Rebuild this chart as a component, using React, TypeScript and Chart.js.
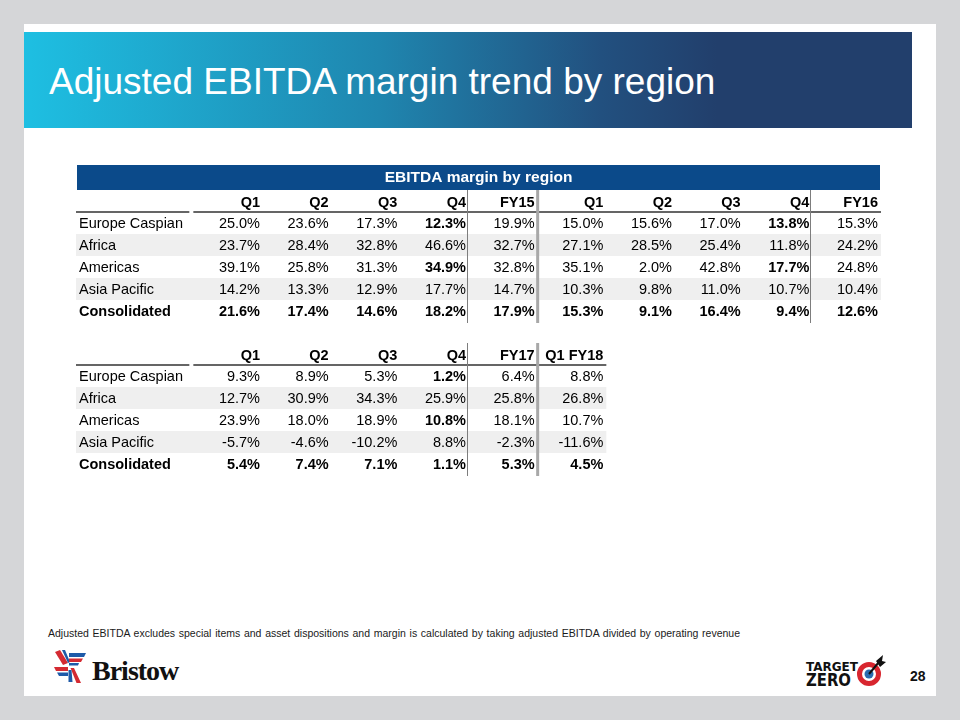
import React, { useEffect, useRef } from "react";
import { Chart, registerables } from "chart.js";

Chart.register(...registerables);

// ---------- data ----------
const regions = ["Europe Caspian", "Africa", "Americas", "Asia Pacific", "Consolidated"];

const periodsFY15FY16 = ["Q1", "Q2", "Q3", "Q4", "FY15", "Q1", "Q2", "Q3", "Q4", "FY16"];
const europeCaspianFY15FY16 = [25.0, 23.6, 17.3, 12.3, 19.9, 15.0, 15.6, 17.0, 13.8, 15.3];
const africaFY15FY16 = [23.7, 28.4, 32.8, 46.6, 32.7, 27.1, 28.5, 25.4, 11.8, 24.2];
const americasFY15FY16 = [39.1, 25.8, 31.3, 34.9, 32.8, 35.1, 2.0, 42.8, 17.7, 24.8];
const asiaPacificFY15FY16 = [14.2, 13.3, 12.9, 17.7, 14.7, 10.3, 9.8, 11.0, 10.7, 10.4];
const consolidatedFY15FY16 = [21.6, 17.4, 14.6, 18.2, 17.9, 15.3, 9.1, 16.4, 9.4, 12.6];

const periodsFY17FY18 = ["Q1", "Q2", "Q3", "Q4", "FY17", "Q1 FY18"];
const europeCaspianFY17FY18 = [9.3, 8.9, 5.3, 1.2, 6.4, 8.8];
const africaFY17FY18 = [12.7, 30.9, 34.3, 25.9, 25.8, 26.8];
const americasFY17FY18 = [23.9, 18.0, 18.9, 10.8, 18.1, 10.7];
const asiaPacificFY17FY18 = [-5.7, -4.6, -10.2, 8.8, -2.3, -11.6];
const consolidatedFY17FY18 = [5.4, 7.4, 7.1, 1.1, 5.3, 4.5];

const tableTitle = "EBITDA margin by region";
const slideTitle = "Adjusted EBITDA margin trend by region";
const footnote =
  "Adjusted EBITDA excludes special items and asset dispositions and margin is calculated by taking adjusted EBITDA divided by operating revenue";
const pageNumber = "28";

// ---------- styles ----------
const FONT = "'Liberation Sans', Arial, Helvetica, sans-serif";
const CELL_SIZE = 14.5;
const BAR_COLOR = "#0b4a8a";
const SHADE = "#efefef";
const TOTAL_ROW = 4;
const EMPHASIS_ROWS = [0, 2];
const FIRST_COL_RIGHT = 260; // page x of first value column's right edge
const COL_STEP = (878 - 260) / 9;

const tablePlugin = {
  id: "tableCells",
  beforeDraw(chart: any, _args: any, opts: any) {
    const { ctx, chartArea, scales } = chart;
    const x = scales.x;
    const y = scales.y;
    const rowH = y.getPixelForValue(1) - y.getPixelForValue(0);
    const step = x.getPixelForValue(1) - x.getPixelForValue(0);
    const right = chartArea.right + 3;
    ctx.save();
    if (opts.bar) {
      ctx.fillStyle = BAR_COLOR;
      ctx.fillRect(1, x.top - 25, right - 2, 25);
    }
    // zebra shading
    ctx.fillStyle = SHADE;
    for (let r = 0; r < regions.length; r++) {
      if (r % 2 === 1) {
        const cy = y.getPixelForValue(r);
        ctx.fillRect(0, cy - rowH / 2, right, rowH);
      }
    }
    // header underline
    ctx.strokeStyle = "#333";
    ctx.lineWidth = 1.5;
    const split = chartArea.left - step;
    ctx.beginPath();
    ctx.moveTo(0, chartArea.top);
    ctx.lineTo(split - 2, chartArea.top);
    ctx.moveTo(split + 2, chartArea.top);
    ctx.lineTo(right, chartArea.top);
    ctx.stroke();
    // separators
    const top = x.top;
    const bottom = chartArea.bottom + 1;
    ctx.strokeStyle = "#7d7d7d";
    ctx.lineWidth = 1;
    for (const c of opts.quarterEnd) {
      const px = Math.round(x.getPixelForValue(c) + 1) + 0.5;
      ctx.beginPath();
      ctx.moveTo(px, top);
      ctx.lineTo(px, bottom);
      ctx.stroke();
    }
    ctx.strokeStyle = "#a8a8a8";
    ctx.lineWidth = 3;
    for (const c of opts.thickAfter) {
      const px = x.getPixelForValue(c) + 3;
      ctx.beginPath();
      ctx.moveTo(px, top);
      ctx.lineTo(px, bottom);
      ctx.stroke();
    }
    ctx.restore();
  },
  afterDatasetsDraw(chart: any, _args: any, opts: any) {
    const { ctx } = chart;
    ctx.save();
    ctx.textAlign = "right";
    ctx.textBaseline = "middle";
    ctx.fillStyle = "#000";
    chart.data.datasets.forEach((ds: any, r: number) => {
      const meta = chart.getDatasetMeta(r);
      meta.data.forEach((el: any, c: number) => {
        const v = ds.values[c];
        const bold = r === TOTAL_ROW || (opts.quarterEnd.includes(c) && EMPHASIS_ROWS.includes(r));
        ctx.font = `${bold ? "bold " : ""}${CELL_SIZE}px ${FONT}`;
        ctx.fillText(`${v.toFixed(1)}%`, el.x, el.y + 1);
      });
    });
    ctx.restore();
  },
};

type TableProps = {
  periods: string[];
  values: number[][];
  title?: string;
  left: number;
  top: number;
  width: number;
  height: number;
  padTop: number;
  quarterEnd: number[];
  thickAfter: number[];
};

function TableChart(props: TableProps) {
  const ref = useRef<HTMLCanvasElement>(null);
  useEffect(() => {
    const canvas = ref.current!;
    const { periods, values, title, left, width, padTop, height } = props;
    const chartRight = FIRST_COL_RIGHT + COL_STEP * (periods.length - 1) - left;
    const padRight = width - chartRight;
    const padBottom = height - padTop - (title ? 30 : 0) - 22 - 110;
    const chart = new Chart(canvas, {
      type: "scatter",
      data: {
        datasets: values.map((vals, r) => ({
          label: regions[r],
          values: vals,
          data: vals.map((_v, c) => ({ x: periods[c], y: regions[r] })),
          pointRadius: 0,
          pointHoverRadius: 0,
          pointHitRadius: 0,
        })) as any,
      },
      options: {
        responsive: false,
        animation: false,
        events: [],
        layout: { padding: { left: 3, right: padRight, top: padTop, bottom: padBottom } },
        scales: {
          x: {
            type: "category",
            labels: periods,
            position: "top",
            offset: false,
            grid: { display: false, drawTicks: false },
            border: { display: false },
            ticks: {
              align: "end",
              padding: 0,
              color: "#000",
              autoSkip: false,
              maxRotation: 0,
              font: { family: FONT, size: CELL_SIZE, weight: "bold" },
            },
            afterFit: (s: any) => {
              s.height = 22;
            },
          } as any,
          y: {
            type: "category",
            labels: regions,
            position: "left",
            offset: true,
            grid: { display: false, drawTicks: false },
            border: { display: false },
            ticks: {
              crossAlign: "far",
              padding: 0,
              labelOffset: 1,
              color: "#000",
              autoSkip: false,
              font: (c: any) => ({
                family: FONT,
                size: CELL_SIZE,
                lineHeight: 1,
                weight: c.index === TOTAL_ROW ? "bold" : "normal",
              }),
            },
            afterFit: (s: any) => {
              s.width = FIRST_COL_RIGHT - left - 3;
            },
          } as any,
        },
        plugins: {
          legend: { display: false },
          tooltip: { enabled: false },
          title: {
            display: !!title,
            text: title || "",
            color: "#fff",
            padding: { top: 5, bottom: 0 },
            font: { family: FONT, size: 15.5, weight: "bold", lineHeight: "25px" },
          },
          tableCells: { bar: !!title, quarterEnd: props.quarterEnd, thickAfter: props.thickAfter },
        } as any,
      },
      plugins: [tablePlugin],
    });
    return () => chart.destroy();
  }, []);
  return (
    <canvas
      ref={ref}
      width={props.width}
      height={props.height}
      style={{ position: "absolute", left: props.left, top: props.top, width: props.width, height: props.height }}
    />
  );
}

function BristowLogo() {
  return (
    <svg width={34} height={34} viewBox="0 0 34 34" style={{ position: "absolute", left: 53, top: 650 }}>
      {/* top-left arm */}
      <polygon points="2,2 7,0 15,13 10,15" fill="#d42a32" />
      <polygon points="9,0 12,0 17,12 15,13" fill="#1e5aa8" />
      {/* top-right arm */}
      <polygon points="16,3 33,3 31,7 16,7" fill="#1e5aa8" />
      <polygon points="16,8.5 30,8.5 28,12 16,12" fill="#d42a32" />
      <polygon points="16,13 26,13 25,15.5 16,15.5" fill="#1e5aa8" />
      {/* bottom-left arm */}
      <polygon points="1,17 15,17 15,21 3,21" fill="#d42a32" />
      <polygon points="4,22.5 15,22.5 15,26 6,26" fill="#1e5aa8" />
      {/* bottom arm */}
      <polygon points="17.5,18 21,18 28,33 23.5,33" fill="#d42a32" />
      <polygon points="15.5,20 15.5,32 19.5,32 18.5,20" fill="#1e5aa8" />
    </svg>
  );
}

function TargetZeroLogo() {
  const fam = "'Liberation Sans Narrow', 'DejaVu Sans Condensed', 'Liberation Sans', sans-serif";
  return (
    <svg width={90} height={42} viewBox="0 0 90 42" style={{ position: "absolute", left: 800, top: 650 }}>
      <text x={6} y={21} fontFamily={fam} fontSize={13} fontWeight="bold" textLength={52} lengthAdjust="spacingAndGlyphs" fill="#111">
        TARGET
      </text>
      <text x={6} y={36} fontFamily={fam} fontSize={17} fontWeight="bold" textLength={45} lengthAdjust="spacingAndGlyphs" fill="#111">
        ZERO
      </text>
      <circle cx={69} cy={24} r={9.5} fill="none" stroke="#d8262f" strokeWidth={5} />
      <circle cx={69} cy={24} r={4.5} fill="#2a6cb0" />
      <line x1={69} y1={24} x2={79} y2={12} stroke="#111" strokeWidth={2} />
      <polygon points="76,11 83,5 82,11 86,12 80,17" fill="#111" />
    </svg>
  );
}

export default function App() {
  const valuesA = [
    europeCaspianFY15FY16,
    africaFY15FY16,
    americasFY15FY16,
    asiaPacificFY15FY16,
    consolidatedFY15FY16,
  ];
  const valuesB = [
    europeCaspianFY17FY18,
    africaFY17FY18,
    americasFY17FY18,
    asiaPacificFY17FY18,
    consolidatedFY17FY18,
  ];
  return (
    <div
      style={{
        position: "absolute",
        left: 0,
        top: 0,
        width: 960,
        height: 720,
        background: "#d5d6d8",
        overflow: "hidden",
        fontFamily: FONT,
      }}
    >
      <div style={{ position: "absolute", left: 24, top: 24, width: 912, height: 672, background: "#ffffff" }} />
      <div
        style={{
          position: "absolute",
          left: 24,
          top: 32,
          width: 888,
          height: 96,
          background: "linear-gradient(90deg, #1ebfe2 0%, #1f86af 40%, #22507f 65%, #223f6c 78%, #223f6c 100%)",
        }}
      />
      <div
        style={{
          position: "absolute",
          left: 49,
          top: 63,
          fontSize: 37,
          lineHeight: "37px",
          color: "#ffffff",
          whiteSpace: "nowrap",
        }}
      >
        {slideTitle}
      </div>

      <TableChart
        periods={periodsFY15FY16}
        values={valuesA}
        title={tableTitle}
        left={76}
        top={160}
        width={806}
        height={176}
        padTop={0}
        quarterEnd={[3, 8]}
        thickAfter={[4]}
      />
      <TableChart
        periods={periodsFY17FY18}
        values={valuesB}
        left={76}
        top={335}
        width={534}
        height={152}
        padTop={8}
        quarterEnd={[3]}
        thickAfter={[4]}
      />

      <div
        style={{
          position: "absolute",
          left: 48,
          top: 627,
          width: 692,
          fontSize: 10.5,
          lineHeight: "12px",
          color: "#1a1a1a",
          textAlign: "justify",
          textAlignLast: "justify",
          whiteSpace: "nowrap",
        }}
      >
        {footnote}
      </div>

      <BristowLogo />
      <div
        style={{
          position: "absolute",
          left: 92,
          top: 657,
          fontFamily: "'Liberation Serif', 'DejaVu Serif', serif",
          fontWeight: "bold",
          fontSize: 28,
          lineHeight: "28px",
          letterSpacing: -1,
          color: "#111",
          whiteSpace: "nowrap",
        }}
      >
        Bristow
      </div>
      <TargetZeroLogo />
      <div
        style={{
          position: "absolute",
          left: 910,
          top: 669,
          fontSize: 14,
          lineHeight: "14px",
          fontWeight: "bold",
          color: "#111",
        }}
      >
        {pageNumber}
      </div>
    </div>
  );
}
